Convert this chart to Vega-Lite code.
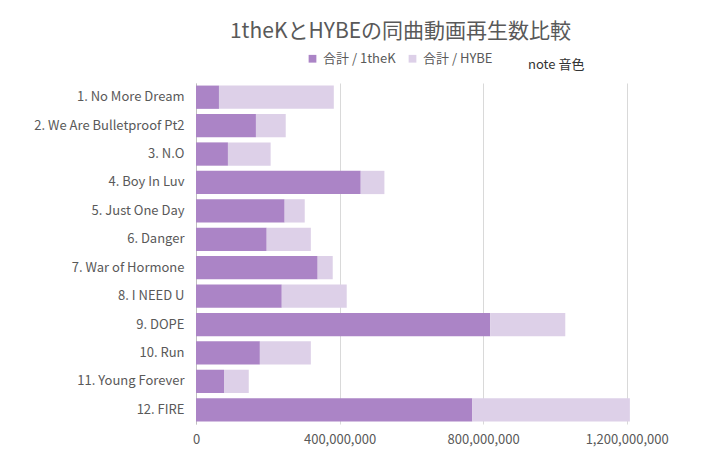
{
  "$schema": "https://vega.github.io/schema/vega-lite/v6.json",
  "width": 445,
  "height": 341,
  "autosize": "none",
  "padding": {"left": 196, "top": 83, "right": 63, "bottom": 37},
  "background": "white",
  "title": {
    "text": "1theKとHYBEの同曲動画再生数比較",
    "font": "Noto Sans CJK JP",
    "fontSize": 21,
    "fontWeight": "normal",
    "color": "#595959",
    "anchor": "middle",
    "dx": -18,
    "offset": 10
  },
  "data": {
    "values": [
      {"song": "1. No More Dream", "series": "合計 / 1theK", "k": 1, "views": 64000000},
      {"song": "1. No More Dream", "series": "合計 / HYBE", "k": 2, "views": 320000000},
      {"song": "2. We Are Bulletproof Pt2", "series": "合計 / 1theK", "k": 1, "views": 167000000},
      {"song": "2. We Are Bulletproof Pt2", "series": "合計 / HYBE", "k": 2, "views": 83000000},
      {"song": "3. N.O", "series": "合計 / 1theK", "k": 1, "views": 89000000},
      {"song": "3. N.O", "series": "合計 / HYBE", "k": 2, "views": 119000000},
      {"song": "4. Boy In Luv", "series": "合計 / 1theK", "k": 1, "views": 459000000},
      {"song": "4. Boy In Luv", "series": "合計 / HYBE", "k": 2, "views": 66000000},
      {"song": "5. Just One Day", "series": "合計 / 1theK", "k": 1, "views": 247000000},
      {"song": "5. Just One Day", "series": "合計 / HYBE", "k": 2, "views": 56000000},
      {"song": "6. Danger", "series": "合計 / 1theK", "k": 1, "views": 197000000},
      {"song": "6. Danger", "series": "合計 / HYBE", "k": 2, "views": 123000000},
      {"song": "7. War of Hormone", "series": "合計 / 1theK", "k": 1, "views": 339000000},
      {"song": "7. War of Hormone", "series": "合計 / HYBE", "k": 2, "views": 42000000},
      {"song": "8. I NEED U", "series": "合計 / 1theK", "k": 1, "views": 239000000},
      {"song": "8. I NEED U", "series": "合計 / HYBE", "k": 2, "views": 181000000},
      {"song": "9. DOPE", "series": "合計 / 1theK", "k": 1, "views": 820000000},
      {"song": "9. DOPE", "series": "合計 / HYBE", "k": 2, "views": 209000000},
      {"song": "10. Run", "series": "合計 / 1theK", "k": 1, "views": 178000000},
      {"song": "10. Run", "series": "合計 / HYBE", "k": 2, "views": 142000000},
      {"song": "11. Young Forever", "series": "合計 / 1theK", "k": 1, "views": 78000000},
      {"song": "11. Young Forever", "series": "合計 / HYBE", "k": 2, "views": 69000000},
      {"song": "12. FIRE", "series": "合計 / 1theK", "k": 1, "views": 770000000},
      {"song": "12. FIRE", "series": "合計 / HYBE", "k": 2, "views": 439000000}
    ]
  },
  "mark": {"type": "bar"},
  "encoding": {
    "y": {
      "field": "song",
      "type": "nominal",
      "sort": null,
      "title": null,
      "scale": {"paddingInner": 0.18, "paddingOuter": 0.09},
      "axis": {
        "ticks": false,
        "labelPadding": 12,
        "labelFont": "Noto Sans CJK JP",
        "labelFontSize": 13,
        "labelColor": "#595959",
        "domainColor": "#bfbfbf",
        "grid": false
      }
    },
    "x": {
      "field": "views",
      "type": "quantitative",
      "stack": "zero",
      "title": null,
      "scale": {"domain": [0, 1240000000], "nice": false},
      "axis": {
        "values": [0, 400000000, 800000000, 1200000000],
        "format": ",d",
        "ticks": false,
        "domain": false,
        "labelPadding": 9,
        "labelFont": "Noto Sans CJK JP",
        "labelFontSize": 13,
        "labelColor": "#595959",
        "gridColor": "#d9d9d9",
        "labelFlush": false
      }
    },
    "color": {
      "field": "series",
      "type": "nominal",
      "scale": {"domain": ["合計 / 1theK", "合計 / HYBE"], "range": ["#ab84c6", "#ddd0e8"]},
      "legend": {
        "orient": "none",
        "direction": "horizontal",
        "legendX": 110,
        "legendY": -31,
        "title": "note 音色",
        "titleOrient": "right",
        "titlePadding": 36,
        "titleFont": "Noto Sans CJK JP",
        "titleFontSize": 13,
        "titleFontWeight": "normal",
        "titleColor": "#333333",
        "titleBaseline": "top",
        "symbolType": "square",
        "symbolSize": 60,
        "symbolStrokeWidth": 0,
        "labelFont": "Noto Sans CJK JP",
        "labelFontSize": 13,
        "labelColor": "#595959",
        "columnPadding": 10
      }
    },
    "order": {"field": "k", "type": "quantitative"}
  },
  "config": {"view": {"stroke": null}}
}
